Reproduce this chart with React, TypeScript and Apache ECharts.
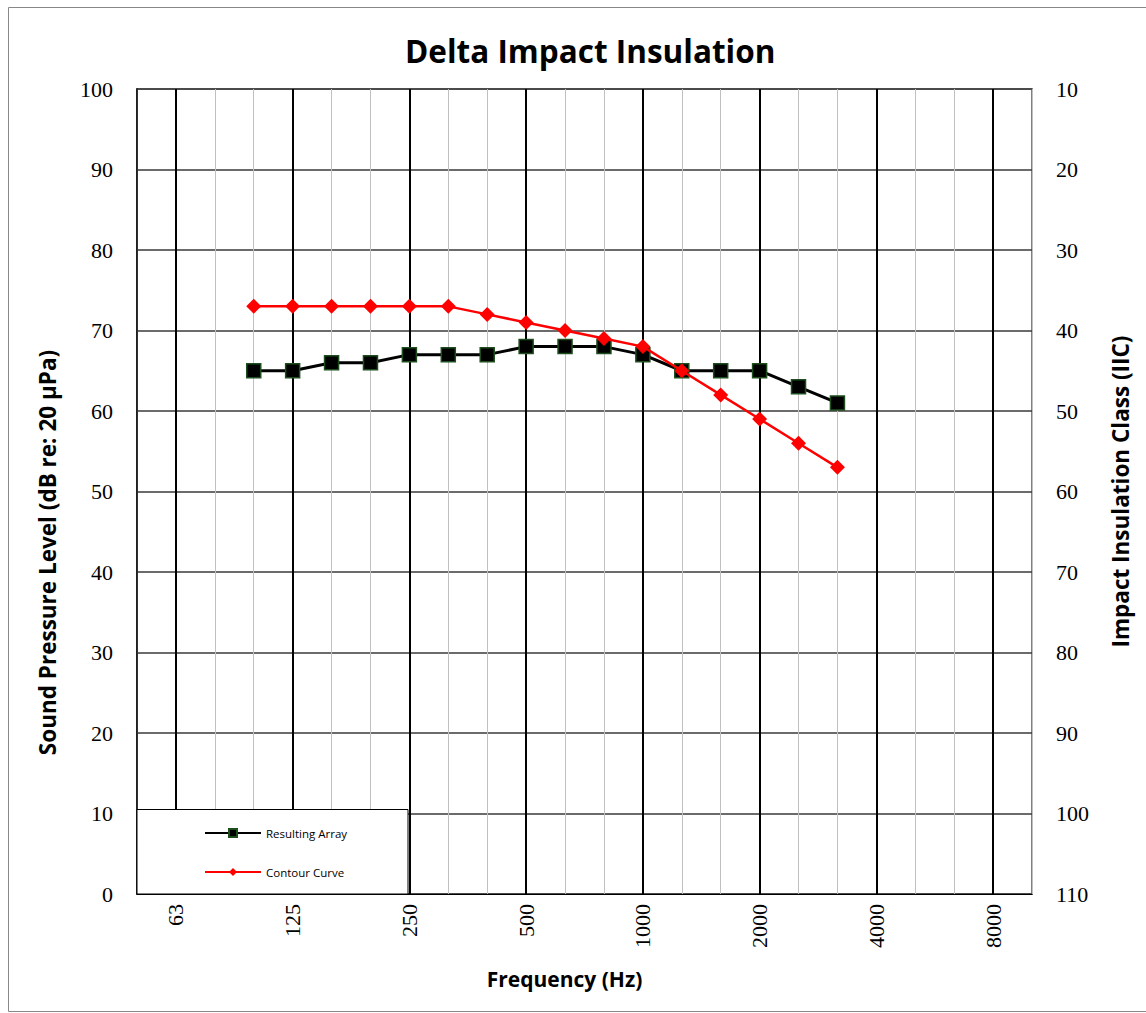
import React, { useEffect, useRef } from "react";
import * as echarts from "echarts";

const frequencies = ["50","63","80","100","125","160","200","250","315","400","500","630","800","1000","1250","1600","2000","2500","3150","4000","5000","6300","8000","10000"];
const octaveLabels = ["63","125","250","500","1000","2000","4000","8000"];
const measuredFreqs = ["100","125","160","200","250","315","400","500","630","800","1000","1250","1600","2000","2500","3150"];
const resultingArray = [65,65,66,66,67,67,67,68,68,68,67,65,65,65,63,61];
const contourCurve = [73,73,73,73,73,73,72,71,70,69,68,65,62,59,56,53];
const leftTicks = { min: 0, max: 100, interval: 10 };
const rightTicks = { min: 10, max: 110, interval: 10 };

const sans = "'Open Sans', Lato, sans-serif";
const serif = "'Liberation Serif', 'Times New Roman', serif";

export default function App() {
  const ref = useRef<HTMLDivElement>(null);
  useEffect(() => {
    document.body.style.margin = "0";
    const chart = echarts.init(ref.current!, null, { renderer: "svg" });
    const option: any = {
      animation: false,
      backgroundColor: "#fff",
      title: {
        text: "Delta Impact Insulation",
        left: 400,
        top: 29,
        textStyle: { fontFamily: sans, fontWeight: "bold", fontSize: 31.5, color: "#000" },
      },
      grid: { left: 137, top: 89, right: 114, bottom: 119, show: true, borderColor: "#808080", borderWidth: 2 },
      xAxis: {
        type: "category",
        data: frequencies,
        boundaryGap: false,
        name: "Frequency (Hz)",
        nameLocation: "middle",
        nameGap: 74,
        nameTextStyle: { fontFamily: sans, fontWeight: "bold", fontSize: 21, color: "#000", padding: [0, 40, 0, 0] },
        axisLine: { show: true, lineStyle: { color: "#000", width: 1 } },
        axisTick: { show: false },
        axisLabel: {
          interval: (i: number, v: string) => octaveLabels.includes(v),
          rotate: 90,
          margin: 10,
          fontFamily: serif,
          fontSize: 22,
          color: "#000",
        },
        splitLine: { show: true, interval: 0, lineStyle: { color: "#c0c0c0", width: 1 } },
      },
      yAxis: [
        {
          type: "value",
          min: leftTicks.min,
          max: leftTicks.max,
          interval: leftTicks.interval,
          name: "Sound Pressure Level (dB re: 20 µPa)",
          nameLocation: "middle",
          nameGap: 78,
          nameTextStyle: { fontFamily: sans, fontWeight: "bold", fontSize: 22.5, color: "#000", padding: [0, 122, 0, 0] },
          axisLine: { show: true, lineStyle: { color: "#000", width: 1.5 } },
          axisTick: { show: false },
          axisLabel: { margin: 24, fontFamily: serif, fontSize: 22, color: "#000" },
          splitLine: { show: true, lineStyle: { color: "#3a3a3a", width: 1.5 } },
        },
        {
          type: "value",
          min: rightTicks.min,
          max: rightTicks.max,
          interval: rightTicks.interval,
          inverse: true,
          position: "right",
          name: "Impact Insulation Class (IIC)",
          nameLocation: "middle",
          nameGap: 77,
          nameRotate: 90,
          nameTextStyle: { fontFamily: sans, fontWeight: "bold", fontSize: 22.5, color: "#000" },
          axisLine: { show: false },
          axisTick: { show: false },
          axisLabel: { margin: 24, fontFamily: serif, fontSize: 22, color: "#000" },
          splitLine: { show: false },
        },
      ],
      legend: {
        orient: "vertical",
        left: 199,
        top: 822,
        itemWidth: 56,
        itemHeight: 10,
        itemGap: 27,
        z: 60,
        textStyle: { fontFamily: sans, fontSize: 11.5, color: "#000" },
        data: ["Resulting Array", "Contour Curve"],
      },
      graphic: [
        { type: "rect", z: 50, shape: { x: 137, y: 809.5, width: 271, height: 84.5 }, style: { fill: "#fff", stroke: "#000", lineWidth: 1 } },
        { type: "rect", z: 50, shape: { x: 8.5, y: 7.5, width: 1200, height: 1004 }, style: { fill: "none", stroke: "#888", lineWidth: 1 } },
      ],
      series: [
        {
          name: "Resulting Array",
          type: "line",
          data: measuredFreqs.map((f, i) => [f, resultingArray[i]]),
          symbol: "rect",
          symbolSize: 14,
          z: 5,
          itemStyle: { color: "#000", borderColor: "#1e4d1e", borderWidth: 1.5 },
          lineStyle: { color: "#000", width: 3 },
          markLine: {
            silent: true,
            symbol: "none",
            label: { show: false },
            lineStyle: { color: "#000", width: 2, type: "solid" },
            z: 1,
            data: octaveLabels.map((f) => ({ xAxis: f })),
          },
        },
        {
          name: "Contour Curve",
          type: "line",
          data: measuredFreqs.map((f, i) => [f, contourCurve[i]]),
          symbol: "diamond",
          symbolSize: 15,
          z: 6,
          itemStyle: { color: "#ff0000" },
          lineStyle: { color: "#ff0000", width: 2.5 },
        },
      ],
    };
    chart.setOption(option);
    return () => chart.dispose();
  }, []);
  return <div ref={ref} style={{ width: 1146, height: 1013 }} />;
}
